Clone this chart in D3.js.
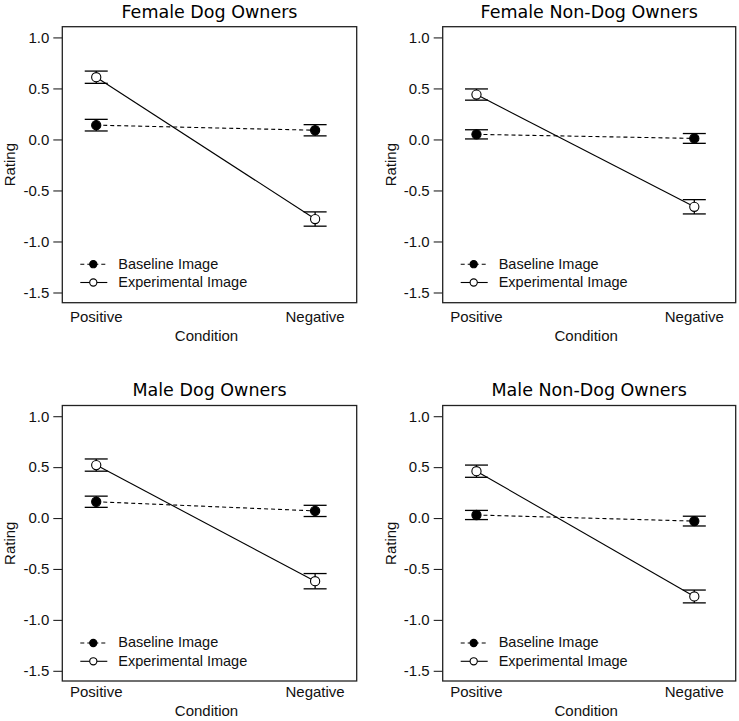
<!DOCTYPE html>
<html>
<head>
<meta charset="utf-8">
<script src="https://cdn.jsdelivr.net/npm/d3@7/dist/d3.min.js"></script>
<style>
  html, body { margin: 0; padding: 0; background: #fff; }
  svg { display: block; }
</style>
</head>
<body>
<svg id="chart" width="739" height="721"></svg>
<script>
// ---- data ----
const categories = ["Positive", "Negative"];
const panelTitles = ["Female Dog Owners", "Female Non-Dog Owners", "Male Dog Owners", "Male Non-Dog Owners"];
const seriesNames = ["Baseline Image", "Experimental Image"];
const baselineMeans = [[0.14, 0.09], [0.05, 0.01], [0.16, 0.07], [0.03, -0.03]];
const baselineSE = [[0.057, 0.055], [0.045, 0.048], [0.055, 0.055], [0.045, 0.048]];
const experimentalMeans = [[0.61, -0.78], [0.44, -0.66], [0.52, -0.62], [0.46, -0.77]];
const experimentalSE = [[0.06, 0.07], [0.055, 0.07], [0.06, 0.075], [0.06, 0.063]];
const yTickValues = [1.0, 0.5, 0.0, -0.5, -1.0, -1.5];
const yTickLabels = ["1.0", "0.5", "0.0", "-0.5", "-1.0", "-1.5"];
const xAxisTitle = "Condition";
const yAxisTitle = "Rating";

// ---- layout ----
const boxes = [
  { x0: 62.3, y0: 26.7, x1: 356.7, y1: 302.7, titleY: 18.3, labY: 321.5, condY: 340.8 },
  { x0: 442.7, y0: 26.7, x1: 735.7, y1: 302.7, titleY: 18.3, labY: 321.5, condY: 340.8 },
  { x0: 62.3, y0: 405.5, x1: 356.7, y1: 681, titleY: 396, labY: 696.7, condY: 715.7 },
  { x0: 442.7, y0: 405.5, x1: 735.7, y1: 681, titleY: 396, labY: 696.7, condY: 715.7 }
];
const sansFont = "'Liberation Sans', Arial, sans-serif";
const titleFont = "'DejaVu Sans', sans-serif";

const svg = d3.select("#chart");

boxes.forEach((b, i) => {
  const g = svg.append("g");
  const y = d3.scaleLinear().domain([-1.6, 1.105]).range([b.y1, b.y0]);
  const xi = d3.scaleLinear().domain([0.845, 2.19]).range([b.x0, b.x1]);
  const x = c => xi(categories.indexOf(c) + 1);

  // title
  g.append("text")
    .attr("x", (b.x0 + b.x1) / 2).attr("y", b.titleY)
    .attr("text-anchor", "middle")
    .style("font-family", titleFont).style("font-size", "17.5px")
    .text(panelTitles[i]);

  // y axis via d3.axisLeft
  const yAxis = d3.axisLeft(y)
    .tickValues(yTickValues)
    .tickSize(9)
    .tickPadding(4)
    .tickFormat((d, k) => yTickLabels[k]);
  const ag = g.append("g").attr("transform", `translate(${b.x0},0)`).call(yAxis);
  ag.select(".domain").remove();
  ag.selectAll(".tick line").attr("stroke", "#222").attr("stroke-width", 1.1);
  ag.selectAll(".tick text")
    .style("font-family", sansFont).style("font-size", "15px").attr("fill", "#111");

  // x category labels (axis without line/ticks)
  categories.forEach(c => {
    g.append("text")
      .attr("x", x(c)).attr("y", b.labY)
      .attr("text-anchor", "middle")
      .style("font-family", sansFont).style("font-size", "15px").attr("fill", "#111")
      .text(c);
  });

  // axis titles
  g.append("text")
    .attr("x", (b.x0 + b.x1) / 2 - 3).attr("y", b.condY)
    .attr("text-anchor", "middle")
    .style("font-family", sansFont).style("font-size", "15px").attr("fill", "#111")
    .text(xAxisTitle);
  g.append("text")
    .attr("transform", `translate(${b.x0 - 47},${(b.y0 + b.y1) / 2}) rotate(-90)`)
    .attr("text-anchor", "middle")
    .style("font-family", sansFont).style("font-size", "15px").attr("fill", "#111")
    .text(yAxisTitle);

  // series
  const series = [
    { means: baselineMeans[i], se: baselineSE[i], dash: "4,3", fill: "#000" },
    { means: experimentalMeans[i], se: experimentalSE[i], dash: null, fill: "#fff" }
  ];
  const line = d3.line().x(d => x(d.c)).y(d => y(d.v));

  series.forEach(s => {
    const pts = categories.map((c, k) => ({ c, v: s.means[k], e: s.se[k] }));
    g.append("path").datum(pts)
      .attr("d", line).attr("fill", "none").attr("stroke", "#000")
      .attr("stroke-width", 1.1)
      .attr("stroke-dasharray", s.dash);
  });

  series.forEach(s => {
    const pts = categories.map((c, k) => ({ c, v: s.means[k], e: s.se[k] }));
    const eg = g.append("g").attr("stroke", "#000").attr("stroke-width", 1.3);
    pts.forEach(p => {
      const cx = x(p.c);
      eg.append("line").attr("x1", cx).attr("x2", cx)
        .attr("y1", y(p.v + p.e)).attr("y2", y(p.v - p.e));
      [p.v + p.e, p.v - p.e].forEach(v => {
        eg.append("line").attr("x1", cx - 11.5).attr("x2", cx + 11.5)
          .attr("y1", y(v)).attr("y2", y(v));
      });
    });
    g.selectAll(null).data(pts).enter().append("circle")
      .attr("cx", d => x(d.c)).attr("cy", d => y(d.v)).attr("r", 4.6)
      .attr("fill", s.fill).attr("stroke", "#000").attr("stroke-width", 1.1);
  });

  // legend
  const lg = g.append("g");
  const legendFills = ["#000", "#fff"];
  const legendDash = ["4,3", null];
  seriesNames.forEach((name, k) => {
    const ly = b.y0 + 237.5 + k * 18.3;
    lg.append("line").attr("x1", b.x0 + 18).attr("x2", b.x0 + 45)
      .attr("y1", ly).attr("y2", ly)
      .attr("stroke", "#000").attr("stroke-width", 1.1)
      .attr("stroke-dasharray", legendDash[k]);
    lg.append("circle").attr("cx", b.x0 + 31).attr("cy", ly).attr("r", 3.6)
      .attr("fill", legendFills[k]).attr("stroke", "#000").attr("stroke-width", 1.1);
    lg.append("text").attr("x", b.x0 + 56).attr("y", ly + 4.3)
      .style("font-family", sansFont).style("font-size", "14.5px").attr("fill", "#111")
      .text(name);
  });

  // plot box
  g.append("rect")
    .attr("x", b.x0).attr("y", b.y0)
    .attr("width", b.x1 - b.x0).attr("height", b.y1 - b.y0)
    .attr("fill", "none").attr("stroke", "#222").attr("stroke-width", 1.3);
});
</script>
</body>
</html>
